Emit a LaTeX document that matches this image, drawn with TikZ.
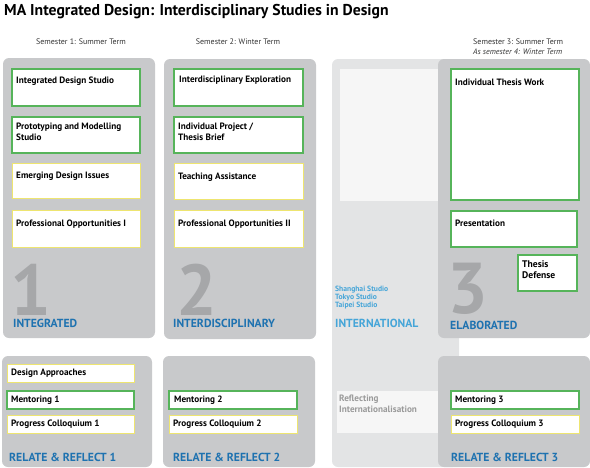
\documentclass[tikz,border=0pt]{standalone}
\usepackage{fontspec}
\setmainfont{PT Sans}
\definecolor{panelgray}{HTML}{C8C9CB}
\definecolor{lightgray}{HTML}{E3E4E5}
\definecolor{innerwhite}{HTML}{F6F6F6}
\definecolor{boxgreen}{HTML}{56B45A}
\definecolor{boxyellow}{HTML}{EEE570}
\definecolor{darkblue}{HTML}{1E72B0}
\definecolor{lightblue}{HTML}{45A5D8}
\definecolor{numgray}{HTML}{A6A7A9}
\definecolor{semtext}{HTML}{333333}
\definecolor{refltext}{HTML}{9A9A9A}
\newcommand\mytwolines[2]{\vtop{\hbox{#1}\hbox{#2}}}
\tikzset{
  panel/.style={fill=panelgray, rounded corners=6pt},
  gbox/.style={draw=boxgreen, line width=1.4pt, fill=white},
  ybox/.style={draw=boxyellow, line width=1pt, fill=white},
  lbl/.style={anchor=base west, inner sep=0pt, font=\bfseries\fontsize{9.2}{11}\selectfont, text=black},
  mlbl/.style={anchor=west, inner sep=0pt, font=\bfseries\fontsize{9.2}{11}\selectfont, text=black},
  sem/.style={inner sep=0pt, font=\fontsize{8}{10}\selectfont, text=semtext},
  bigtitle/.style={anchor=west, inner sep=0pt, font=\bfseries\fontsize{11.7}{12}\selectfont, text=darkblue},
  bignum/.style={anchor=base west, inner sep=0pt, text depth=0pt, font=\bfseries\fontsize{72}{72}\selectfont, text=numgray},
}
\begin{document}
\begin{tikzpicture}[x=1pt,y=-1pt]
\useasboundingbox (0,0) rectangle (590,467);
% title
\node[anchor=base west, inner sep=0pt, font=\bfseries\fontsize{15.7}{17}\selectfont] (title) at (4,15) {MA Integrated Design: Interdisciplinary Studies in Design};
% semester labels
\node[sem] (s1) at (81,42) {Semester 1: Summer Term};
\node[sem] (s2) at (238,42) {Semester 2: Winter Term};
\node[sem, anchor=west] (s3) at (473,42) {Semester 3: Summer Term};
\node[sem, anchor=west, font=\itshape\fontsize{8}{10}\selectfont] (s4) at (473,52) {As semester 4: Winter Term};

% international background
\fill[lightgray, rounded corners=6pt] (332,59) rectangle (459,467);
\fill[innerwhite] (340,69) rectangle (440,201);
\fill[innerwhite] (337,391) rectangle (440,433);

% main panels
\fill[panel] (3,58) rectangle (155,338);
\fill[panel] (164,59) rectangle (316,339);
\fill[panel] (438,59) rectangle (590,338);
\fill[panel] (2,356) rectangle (152,467);
\fill[panel] (163,356) rectangle (315,467);
\fill[panel] (438,356) rectangle (590,467);

% big numbers
\node[bignum] (n1) at (10,315) {1};
\node[bignum] (n2) at (176,315) {2};
\node[bignum] (n3) at (447,313) {3};

% panel 1 boxes
\draw[gbox] (12,69) rectangle (140,106);
\node[lbl] (p1a) at (16,83.5) {Integrated Design Studio};
\draw[gbox] (12,117) rectangle (140,153);
\node[lbl] (p1b) at (16,129.6) {\mytwolines{Prototyping and Modelling}{Studio}};
\draw[ybox] (12,163) rectangle (140,198);
\node[lbl] (p1c) at (16,178.6) {Emerging Design Issues};
\draw[ybox] (12,210) rectangle (140,247);
\node[lbl] (p1d) at (16,226.3) {Professional Opportunities I};
\node[bigtitle] (t1) at (13,323.5) {INTEGRATED};

% panel 2 boxes
\draw[gbox] (174,69) rectangle (303,106);
\node[lbl] (p2a) at (179,82.6) {Interdisciplinary Exploration};
\draw[gbox] (174,117) rectangle (303,153);
\node[lbl] (p2b) at (178,129.6) {\mytwolines{Individual Project /}{Thesis Brief}};
\draw[ybox] (174,163) rectangle (303,199);
\node[lbl] (p2c) at (178,179.6) {Teaching Assistance};
\draw[ybox] (174,210) rectangle (303,247);
\node[lbl] (p2d) at (178,226.3) {Professional Opportunities II};
\node[bigtitle] (t2) at (173,323.5) {INTERDISCIPLINARY};

% international
\node[anchor=base west, inner sep=0pt, font=\bfseries\fontsize{7.6}{8}\selectfont, text=lightblue] (studios) at (335,291.5) {\vtop{\hbox{Shanghai Studio}\hbox{Tokyo Studio}\hbox{Taipei Studio}}};
\node[bigtitle, text=lightblue] (t3) at (335,323.5) {INTERNATIONAL};
\node[anchor=base west, inner sep=0pt, font=\bfseries\fontsize{9.2}{11}\selectfont, text=refltext] (refl) at (339,401) {\mytwolines{Reflecting}{Internationalisation}};

% panel 3 boxes
\draw[gbox] (451,69) rectangle (579,200);
\node[lbl] (p3a) at (455,85.3) {Individual Thesis Work};
\draw[gbox] (451,211) rectangle (577,247);
\node[lbl] (p3b) at (455,226.3) {Presentation};
\draw[gbox] (518,255) rectangle (577,291);
\node[lbl, font=\bfseries\fontsize{9.6}{11}\selectfont] (p3c) at (522,267.3) {\mytwolines{Thesis}{Defense}};
\node[bigtitle] (t4) at (450,325) {ELABORATED};

% relate & reflect 1
\draw[ybox] (7,364) rectangle (134,382);
\node[mlbl] (r1a) at (11,373) {Design Approaches};
\draw[gbox] (7,391) rectangle (134,409);
\node[mlbl] (r1b) at (11,400) {Mentoring 1};
\draw[ybox] (7,415) rectangle (134,433);
\node[mlbl] (r1c) at (11,424) {Progress Colloquium 1};
\node[bigtitle] (t5) at (9,457) {RELATE \& REFLECT 1};

% relate & reflect 2
\draw[gbox] (169,391) rectangle (297,409);
\node[mlbl] (r2b) at (174,400) {Mentoring 2};
\draw[ybox] (169,415) rectangle (297,433);
\node[mlbl] (r2c) at (173,424) {Progress Colloquium 2};
\node[bigtitle] (t6) at (173,457) {RELATE \& REFLECT 2};

% relate & reflect 3
\draw[gbox] (451,391) rectangle (579,409);
\node[mlbl] (r3b) at (455,400) {Mentoring 3};
\draw[ybox] (451,415) rectangle (579,433);
\node[mlbl] (r3c) at (455,424) {Progress Colloquium 3};
\node[bigtitle] (t7) at (451,457) {RELATE \& REFLECT 3};
\end{tikzpicture}
\end{document}
